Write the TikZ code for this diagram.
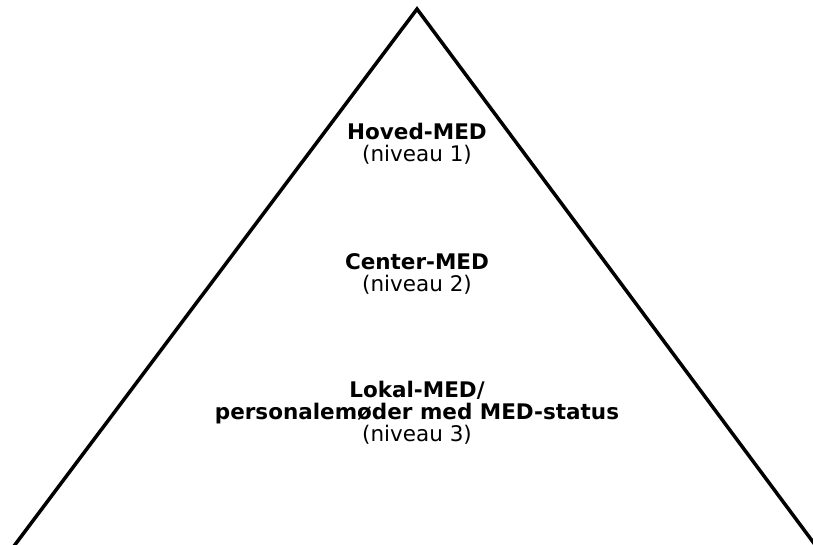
\documentclass[tikz,border=0pt]{standalone}
\usepackage{fontspec}
\setmainfont{DejaVu Sans}
\usetikzlibrary{positioning, calc}

\begin{document}
\begin{tikzpicture}[x=1pt,y=-1pt,
    level/.style={align=center,inner sep=0pt,font=\fontsize{21.5}{22}\selectfont},
    side/.style={line width=3.5pt,line join=miter}]

\useasboundingbox (0,0) rectangle (813,544);
\clip (0,0) rectangle (813,544);

\coordinate (apex) at (417,9);
\coordinate (bl) at (14,546);
\coordinate (br) at (816,546);

\draw[side] (bl) -- (apex) -- (br);

% anchor=base sits on the last line
\node[level,anchor=base] (hoved) at (417,161) {\textbf{Hoved-MED}\\(niveau 1)};
\node[level,anchor=base] (center) at (417,291) {\textbf{Center-MED}\\(niveau 2)};
\node[level,anchor=base] (lokal) at (417,441) {\textbf{Lokal-MED/}\\\textbf{personalemøder med MED-status}\\(niveau 3)};
\end{tikzpicture}
\end{document}
